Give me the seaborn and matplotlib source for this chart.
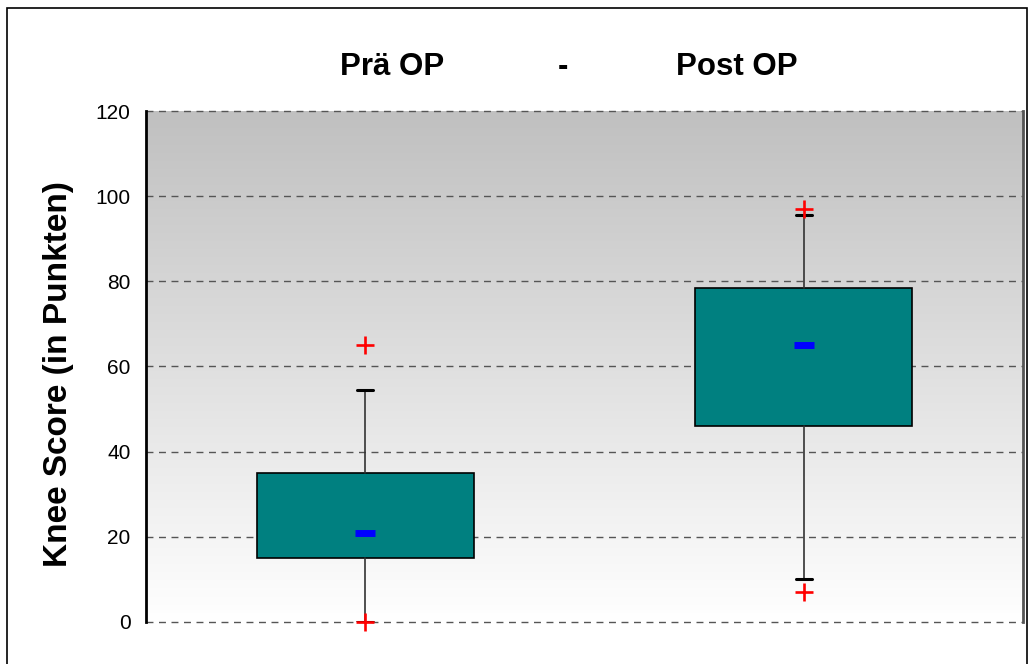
import numpy as np
import pandas as pd
import matplotlib
matplotlib.use('Agg')
import matplotlib.pyplot as plt
import seaborn as sns
from matplotlib.colors import LinearSegmentedColormap
from matplotlib.patches import Rectangle

sns.set_style('white')
plt.rcParams['font.family'] = ['Liberation Sans', 'DejaVu Sans']
plt.rcParams['text.color'] = 'black'
plt.rcParams['axes.labelcolor'] = 'black'
plt.rcParams['ytick.color'] = 'black'

# values
groups = ['Prä OP', 'Post OP']
q1 = [15, 46]
q3 = [35, 78.5]
means = [21, 65]
whisker_low = [0, 10]
whisker_high = [54.5, 95.5]
min_vals = [0, 7]
max_vals = [65, 97]
yticks = [0, 20, 40, 60, 80, 100, 120]

fig = plt.figure(figsize=(10.34, 6.64), dpi=100)
ax = fig.add_axes([0.1412, 0.0633, 0.8482, 0.7695])

# grey-to-white background gradient
grad = np.linspace(0, 1, 256).reshape(-1, 1)
bg_cmap = LinearSegmentedColormap.from_list('bg', ['#ffffff', '#c0c0c0'])
ax.imshow(grad, extent=[-0.5, 1.5, 0, 120], origin='lower', aspect='auto',
          cmap=bg_cmap, zorder=0)

stats = []
for i, g in enumerate(groups):
    stats.append(dict(label=g, q1=q1[i], q3=q3[i], med=(q1[i] + q3[i]) / 2,
                      whislo=whisker_low[i], whishi=whisker_high[i], fliers=[]))

ax.bxp(stats, positions=[0, 1], widths=0.495, patch_artist=True,
       showfliers=False, capwidths=0.037,
       boxprops=dict(facecolor='#008080', edgecolor='black', linewidth=1.2),
       medianprops=dict(linewidth=0),
       whiskerprops=dict(color='#333333', linewidth=1.2),
       capprops=dict(color='black', linewidth=2.2))

# mean markers
df_mean = pd.DataFrame({'x': [0, 1], 'y': means})
sns.scatterplot(data=df_mean, x='x', y='y', marker='_', s=200, color='blue',
                linewidth=5, ax=ax, zorder=5, legend=False)

# min / max crosses
df_ext = pd.DataFrame({'x': [0, 1, 0, 1], 'y': min_vals + max_vals})
sns.scatterplot(data=df_ext, x='x', y='y', marker='+', s=170, color='red',
                linewidth=1.9, ax=ax, zorder=6, legend=False, clip_on=False)

ax.set_xlim(-0.5, 1.5)
ax.set_ylim(0, 120)
ax.set_yticks(yticks)
ax.set_yticklabels([str(t) for t in yticks], fontsize=15)
ax.set_xticks([])
ax.set_xlabel('')
ax.tick_params(axis='y', direction='out', length=6, width=1, color='black', pad=5)
for t in yticks:
    ax.axhline(t, color='#555555', linestyle=(0, (5, 4)), linewidth=1,
               zorder=1, clip_on=False)

ax.spines['top'].set_visible(False)
ax.spines['bottom'].set_visible(False)
ax.spines['left'].set_color('black')
ax.spines['left'].set_linewidth(2)
ax.spines['left'].set_zorder(7)
ax.spines['right'].set_color('#555555')
ax.spines['right'].set_linewidth(2)

ax.set_ylabel('Knee Score (in Punkten)', fontsize=24, fontweight='bold')
ax.yaxis.set_label_coords(-0.082, 0.485)

# header text
fig.text(392 / 1034, 1 - 67 / 664, 'Prä OP', ha='center', va='center',
         fontsize=22.5, fontweight='bold')
fig.text(563 / 1034, 1 - 67 / 664, '-', ha='center', va='center',
         fontsize=22.5, fontweight='bold')
fig.text(737 / 1034, 1 - 67 / 664, 'Post OP', ha='center', va='center',
         fontsize=22.5, fontweight='bold')

# outer frame
fig.patches.append(Rectangle((7 / 1034, -0.05), 1020 / 1034, 1.05 - 7.5 / 664,
                             transform=fig.transFigure, fill=False,
                             edgecolor='black', linewidth=1.2))

fig.savefig('out.png', dpi=100)
